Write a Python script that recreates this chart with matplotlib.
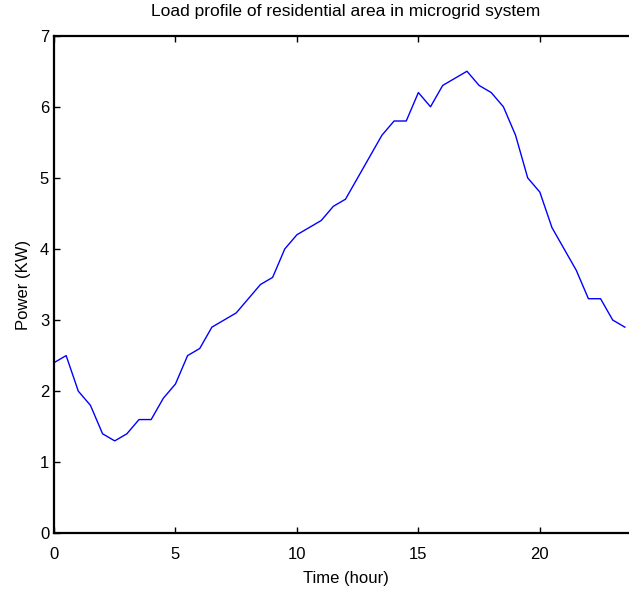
import numpy as np
import matplotlib
matplotlib.use("Agg")
import matplotlib.pyplot as plt

# load profile, half-hour steps
hours = np.arange(0, 24, 0.5)
power_kw = [2.4, 2.5, 2.0, 1.8, 1.4, 1.3, 1.4, 1.6, 1.6, 1.9,
            2.1, 2.5, 2.6, 2.9, 3.0, 3.1, 3.3, 3.5, 3.6, 4.0,
            4.2, 4.3, 4.4, 4.6, 4.7, 5.0, 5.3, 5.6, 5.8, 5.8,
            6.2, 6.0, 6.3, 6.4, 6.5, 6.3, 6.2, 6.0, 5.6, 5.0,
            4.8, 4.3, 4.0, 3.7, 3.3, 3.3, 3.0, 2.9]
x_ticks = [0, 5, 10, 15, 20]
y_ticks = [0, 1, 2, 3, 4, 5, 6, 7]

plt.rcParams['font.family'] = ['Liberation Sans', 'DejaVu Sans']

fig = plt.figure(figsize=(6.29, 5.94), dpi=100)
ax = fig.add_axes([54 / 629, 60.7 / 594, 583 / 629, 497.6 / 594])
ax.plot(hours, power_kw, color='#0000ff', linewidth=1.0)

ax.set_xlim(0, 24)
ax.set_ylim(0, 7)
ax.set_xticks(x_ticks)
ax.set_yticks(y_ticks)
ax.tick_params(direction='in', length=4, width=1, labelsize=12, top=True, right=True)
ax.tick_params(axis='x', pad=10)
for side in ['left', 'bottom', 'top']:
    ax.spines[side].set_linewidth(1.6)

ax.set_title('Load profile of residential area in microgrid system', fontsize=12.5, pad=14)
ax.set_xlabel('Time (hour)', fontsize=12, labelpad=6)
ax.set_ylabel('Power (KW)', fontsize=12, labelpad=6)

fig.savefig('out.png', dpi=100)
